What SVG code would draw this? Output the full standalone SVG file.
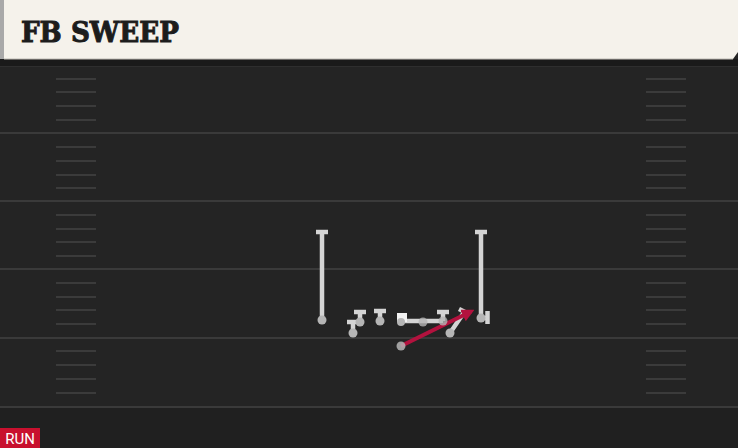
<svg xmlns="http://www.w3.org/2000/svg" width="738" height="448" viewBox="0 0 738 448">
<style>
.yard{stroke:#3a3a3a;stroke-width:2}
.hash{stroke:#3b3b3b;stroke-width:2}
.rt{stroke:#d4d4d4;stroke-width:4.5;fill:none;stroke-linecap:butt}
.dot{fill:#b5b5b5}
.title{font-family:"DejaVu Serif",serif;font-weight:bold;font-size:28px;fill:#1c1c1c;stroke:#1c1c1c;stroke-width:1}
.tag{font-family:Roboto,"Liberation Sans",sans-serif;font-size:15px;fill:#ffffff}
</style>
<defs>
<marker id="ah" viewBox="0 0 10 10" refX="7" refY="5" markerWidth="3.2" markerHeight="3.2" orient="auto" markerUnits="strokeWidth">
<path d="M0,0 L10,5 L0,10 z" fill="#b3123e"/>
</marker>
</defs>
<rect width="738" height="448" fill="#242424"/>
<rect y="407" width="738" height="41" fill="#202020"/>
<g id="field">
<line class="yard" x1="0" y1="66" x2="738" y2="66" style="stroke:#2e2e2e"/>
<line class="yard" x1="0" y1="133" x2="738" y2="133"/>
<line class="yard" x1="0" y1="201" x2="738" y2="201"/>
<line class="yard" x1="0" y1="269" x2="738" y2="269"/>
<line class="yard" x1="0" y1="338" x2="738" y2="338"/>
<line class="yard" x1="0" y1="407" x2="738" y2="407"/>
<path class="hash" d="M56,79H96M56,92H96M56,106H96M56,120H96M56,147H96M56,161H96M56,175H96M56,188H96M56,215H96M56,229H96M56,242H96M56,256H96M56,283H96M56,297H96M56,310H96M56,324H96M56,351H96M56,365H96M56,379H96M56,393H96"/>
<path class="hash" d="M646,79H686M646,92H686M646,106H686M646,120H686M646,147H686M646,161H686M646,175H686M646,188H686M646,215H686M646,229H686M646,242H686M646,256H686M646,283H686M646,297H686M646,310H686M646,324H686M646,351H686M646,365H686M646,379H686M646,393H686"/>
</g>
<g id="header">
<rect x="0" y="59" width="738" height="7" fill="#1a1a1a"/>
<path d="M0,0H738V52L733,59H0Z" fill="#f5f2eb"/>
<rect x="0" y="0" width="4" height="59" fill="#a9a9a9"/>
<line x1="4" y1="59" x2="733" y2="59" stroke="#bdbab3" stroke-width="1"/>
<text class="title" x="21" y="42" textLength="158" lengthAdjust="spacingAndGlyphs">FB SWEEP</text>
</g>
<g id="connectors">
<path class="rt" d="M322,320V232M316,232H328"/>
<path class="rt" d="M481,318V232M475,232H487M481,318H487M487.5,311V324"/>
<path class="rt" d="M353,333V322M347,322H359"/>
<path class="rt" d="M360,322V312M354,312H366"/>
<path class="rt" d="M380,321V311M374,311H386"/>
<path class="rt" d="M401,321H443M443,321V312M437,312H449"/>
<path class="rt" d="M450,333L465,311M459,309L469,314"/>
<line x1="401" y1="346" x2="471" y2="311.5" stroke="#b3123e" stroke-width="4" marker-end="url(#ah)"/>
</g>
<g id="players">
<circle id="wr1" class="dot" cx="322" cy="320" r="4.5"/>
<circle id="wr2" class="dot" cx="481" cy="318" r="4.5"/>
<circle id="t1" class="dot" cx="353" cy="333" r="4.5"/>
<circle id="t2" class="dot" cx="360" cy="322" r="4.5"/>
<circle id="g1" class="dot" cx="380" cy="321" r="4.5"/>
<rect id="c" x="397" y="313" width="10" height="9" fill="#f2f2f2"/>
<circle id="c2" class="dot" cx="401" cy="322" r="4"/>
<circle id="g2" class="dot" cx="423" cy="322" r="4.5" opacity="0.8"/>
<circle id="t3" class="dot" cx="443" cy="321" r="4.5" opacity="0.8"/>
<circle id="te" class="dot" cx="450" cy="333" r="4.5"/>
<circle id="fb" class="dot" cx="401" cy="346" r="4.5" opacity="0.85"/>
</g>
<g id="label">
<rect x="0" y="428" width="40" height="20" fill="#c8102e"/>
<text class="tag" x="20" y="444" text-anchor="middle">RUN</text>
</g>
</svg>
